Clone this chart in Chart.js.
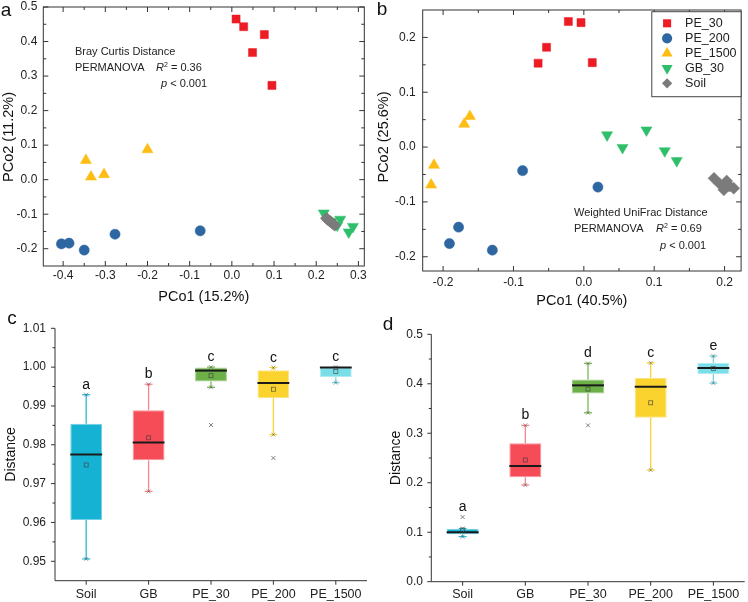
<!DOCTYPE html>
<html><head><meta charset="utf-8">
<script src="https://cdn.jsdelivr.net/npm/chart.js@4.4.0/dist/chart.umd.min.js"></script>
<style>
body{margin:0;background:#fff;}
#wrap{position:relative;width:748px;height:602px;overflow:hidden;background:#fff;font-family:"Liberation Sans",Arial,sans-serif;color:#222;}
canvas{position:absolute;}
.t{position:absolute;white-space:nowrap;font-size:11px;line-height:1;color:#222;transform:translateY(-50%);}
.t sup{font-size:7px;vertical-align:0;position:relative;top:-4px;}
.lt{position:absolute;font-size:19px;line-height:1;color:#111;transform:translate(-50%,-50%);}
</style></head><body>
<div id="wrap">
<canvas id="ca" width="374" height="310" style="left:0;top:0"></canvas>
<canvas id="cb" width="374" height="312" style="left:374px;top:0"></canvas>
<canvas id="cc" width="374" height="292" style="left:0;top:310px"></canvas>
<canvas id="cd" width="374" height="292" style="left:374px;top:310px"></canvas>

<div class="lt" style="left:6px;top:9px">a</div>
<div class="lt" style="left:382px;top:8px">b</div>
<div class="lt" style="left:12px;top:317px">c</div>
<div class="lt" style="left:388px;top:323px">d</div>

<div class="t" style="left:75px;top:51px">Bray Curtis Distance</div>
<div class="t" style="left:75px;top:67px">PERMANOVA</div>
<div class="t" style="left:156px;top:67px"><i>R</i><sup>2</sup> = 0.36</div>
<div class="t" style="left:161px;top:83px"><i>p</i> &lt; 0.001</div>

<div class="t" style="left:574px;top:212px">Weighted UniFrac Distance</div>
<div class="t" style="left:574px;top:228px">PERMANOVA</div>
<div class="t" style="left:656px;top:228px"><i>R</i><sup>2</sup> = 0.69</div>
<div class="t" style="left:660px;top:245px"><i>p</i> &lt; 0.001</div>
</div>
<script>
// ---------------- DATA ----------------
const groups = ['PE_30','PE_200','PE_1500','GB_30','Soil'];

// Panel a: Bray Curtis PCoA
const a_PE_30   = [[0.010,0.465],[0.028,0.443],[0.077,0.420],[0.049,0.368],[0.095,0.273]];
const a_PE_200  = [[-0.404,-0.186],[-0.386,-0.184],[-0.350,-0.204],[-0.277,-0.158],[-0.075,-0.148]];
const a_PE_1500 = [[-0.346,0.056],[-0.334,0.008],[-0.303,0.015],[-0.200,0.087]];
const a_GB_30   = [[0.218,-0.097],[0.257,-0.115],[0.287,-0.136],[0.277,-0.152],[0.250,-0.132],[0.236,-0.121]];
const a_Soil    = [[0.224,-0.112],[0.228,-0.116],[0.232,-0.120],[0.236,-0.124],[0.240,-0.128],[0.244,-0.132]];
const aXTicks = [-0.4,-0.3,-0.2,-0.1,0,0.1,0.2,0.3];
const aYTicks = [-0.2,-0.1,0,0.1,0.2,0.3,0.4,0.5];

// Panel b: Weighted UniFrac PCoA
const b_PE_30   = [[-0.022,0.229],[-0.004,0.227],[-0.053,0.182],[-0.065,0.153],[0.012,0.154]];
const b_PE_200  = [[-0.087,-0.043],[0.020,-0.073],[-0.178,-0.146],[-0.191,-0.176],[-0.130,-0.188]];
const b_PE_1500 = [[-0.162,0.056],[-0.170,0.042],[-0.213,-0.033],[-0.217,-0.069]];
const b_GB_30   = [[0.033,0.022],[0.055,-0.001],[0.089,0.031],[0.115,-0.007],[0.132,-0.025]];
const b_Soil    = [[0.185,-0.057],[0.193,-0.067],[0.203,-0.062],[0.199,-0.078],[0.213,-0.075],[0.207,-0.071]];
const bXTicks = [-0.2,-0.1,0,0.1,0.2];
const bYTicks = [-0.2,-0.1,0,0.1,0.2];

// Panels c and d: distance box plots
const boxCats = ['Soil','GB','PE_30','PE_200','PE_1500'];
const cMin  = [0.9506,0.9680,0.9948,0.9826,0.9960];
const cQ1   = [0.9606,0.9760,0.9963,0.9920,0.9974];
const cMed  = [0.9775,0.9806,0.9991,0.9959,0.9999];
const cQ3   = [0.9854,0.9889,0.9999,0.9992,1.0000];
const cMax  = [0.9929,0.9956,1.0000,0.9999,1.0000];
const cMean = [0.9748,0.9818,0.9978,0.9943,0.9989];
const cOut  = [[],[],[0.9851],[0.9766],[]];
const cLetters = ['a','b','c','c','c'];
const cYTicks = [0.95,0.96,0.97,0.98,0.99,1.00,1.01];

const dMin  = [0.0910,0.1953,0.3414,0.2257,0.4014];
const dQ1   = [0.0957,0.2109,0.3806,0.3313,0.4196];
const dMed  = [0.0997,0.2337,0.3968,0.3940,0.4317];
const dQ3   = [0.1065,0.2796,0.4089,0.4115,0.4424];
const dMax  = [0.1075,0.3160,0.4412,0.4424,0.4560];
const dMean = [0.1044,0.2459,0.3893,0.3616,0.4310];
const dOut  = [[0.1307],[],[0.3160],[],[]];
const dLetters = ['a','b','d','c','e'];
const dYTicks = [0,0.1,0.2,0.3,0.4,0.5];

// ---------------- STYLES ----------------
const F = '"Liberation Sans", Arial, sans-serif';
const AX = '#333';
const TXT = '#222';
const groupColors = ['#EC1C24','#2E66A1','#FDBD12','#2FBF6B','#7B7B7B'];
const groupShapes = ['rect','circle','triangle','triangle','rectRot'];
const groupRot    = [0,0,0,180,0];
const groupRadius = [5.7,5.1,6.4,6.4,6];
const boxFill  = ['#16B2D3','#F54C57','#6DB048','#FBD32E','#79DEE8'];
const boxEdge  = ['#6FD0E6','#F8939A','#A3CD8A','#FCE37E','#B0EBF1'];
const boxWhisk = ['#2DB8D8','#F5868E','#79B957','#F5D33A','#74D6E3'];

function minorOf(maj, lo, hi){
  const out=[]; const st=maj[1]-maj[0];
  if(maj[0]-st/2>lo) out.push(maj[0]-st/2);
  for(let i=0;i<maj.length-1;i++) out.push((maj[i]+maj[i+1])/2);
  if(maj[maj.length-1]+st/2<hi) out.push(maj[maj.length-1]+st/2);
  return out;
}
function line(ctx,x1,y1,x2,y2){ctx.beginPath();ctx.moveTo(x1,y1);ctx.lineTo(x2,y2);ctx.stroke();}
function drawMarker(ctx,shape,rot,r,x,y,color){
  ctx.save();ctx.fillStyle=color;ctx.beginPath();
  if(shape==='rect'){const s=r*Math.SQRT1_2;ctx.rect(x-s,y-s,2*s,2*s);}
  else if(shape==='circle'){ctx.arc(x,y,r,0,Math.PI*2);}
  else if(shape==='triangle'){let a=rot*Math.PI/180;for(let k=0;k<3;k++){const px=x+Math.sin(a)*r,py=y-Math.cos(a)*r;k?ctx.lineTo(px,py):ctx.moveTo(px,py);a+=2*Math.PI/3;}ctx.closePath();}
  else if(shape==='rectRot'){ctx.moveTo(x-r,y);ctx.lineTo(x,y-r);ctx.lineTo(x+r,y);ctx.lineTo(x,y+r);ctx.closePath();}
  ctx.fill();ctx.restore();
}

// axis labels and titles, placed through the chart's scales
function axisText(cfg){
  return {id:'axisText', afterDraw(chart){
    const {ctx, chartArea:a, scales:{x,y}} = chart;
    ctx.save(); ctx.fillStyle=TXT; ctx.textBaseline='middle';
    ctx.font=cfg.ySize+'px '+F; ctx.textAlign='right';
    cfg.yT.forEach(v=>ctx.fillText(cfg.fy(v), a.left-cfg.yGap, y.getPixelForValue(v)));
    ctx.font=cfg.xSize+'px '+F; ctx.textAlign='center';
    cfg.xT.forEach((v,i)=>ctx.fillText(cfg.fx(v), x.getPixelForValue(cfg.xv?cfg.xv(v,i):v), a.bottom+cfg.xDy));
    ctx.fillStyle='#111';
    if(cfg.xTitle){ctx.font=cfg.titleSize+'px '+F; ctx.fillText(cfg.xTitle,(a.left+a.right)/2,cfg.xTitleY);}
    ctx.save(); ctx.translate(cfg.yTitleX, cfg.yTitleY!=null?cfg.yTitleY:(a.top+a.bottom)/2); ctx.rotate(-Math.PI/2);
    ctx.font=cfg.yTitleSize+'px '+F; ctx.textAlign='center'; ctx.fillText(cfg.yTitle,0,0); ctx.restore();
    ctx.restore();
  }};
}

function scatterSets(pts){
  return groups.map((g,i)=>({
    label:g,
    data:pts[i].map(p=>({x:p[0],y:p[1]})),
    pointStyle:groupShapes[i], pointRotation:groupRot[i], pointRadius:groupRadius[i],
    pointBackgroundColor:groupColors[i], pointBorderColor:groupColors[i], pointBorderWidth:0.5,
    backgroundColor:groupColors[i], borderColor:groupColors[i],
    showLine:false, order: g==='Soil'?0:1
  }));
}

function frameTicks(xMaj,yMaj){
  return {id:'frameTicks', afterDraw(chart){
    const {ctx, chartArea:a, scales:{x,y}} = chart;
    ctx.save(); ctx.strokeStyle=AX; ctx.lineWidth=1;
    ctx.strokeRect(a.left,a.top,a.right-a.left,a.bottom-a.top);
    const xm=minorOf(xMaj,x.min,x.max), ym=minorOf(yMaj,y.min,y.max);
    const tx=(vals,L)=>vals.forEach(v=>{const p=x.getPixelForValue(v);line(ctx,p,a.bottom,p,a.bottom-L);line(ctx,p,a.top,p,a.top+L);});
    const ty=(vals,L)=>vals.forEach(v=>{const p=y.getPixelForValue(v);line(ctx,a.left,p,a.left+L,p);line(ctx,a.right,p,a.right-L,p);});
    tx(xMaj,5);tx(xm,3);ty(yMaj,5);ty(ym,3);
    ctx.restore();
  }};
}

const legendPlugin = {id:'boxLegend', afterDraw(chart){
  const {ctx, chartArea:a} = chart;
  const bx=a.right-89.3, by=a.top+1.7, bw=89.3, bh=85;
  ctx.save();
  ctx.fillStyle='#fff'; ctx.fillRect(bx,by,bw,bh);
  ctx.strokeStyle='#444'; ctx.lineWidth=1; ctx.strokeRect(bx,by,bw,bh);
  ctx.font='12.5px '+F; ctx.fillStyle=TXT; ctx.textBaseline='middle'; ctx.textAlign='left';
  chart.data.datasets.forEach((ds,i)=>{
    const yy=by+11.6+15*i;
    drawMarker(ctx,groupShapes[i],groupRot[i],groupRadius[i]*(i===4?0.85:1),bx+15.3,yy,groupColors[i]);
    ctx.fillStyle=TXT; ctx.fillText(ds.label,bx+33.3,yy);
  });
  ctx.restore();
}};

const fmt1=v=>Number(v).toFixed(1), fmt2=v=>Number(v).toFixed(2);

function scatterChart(id, pts, xr, yr, xT, yT, xTitle, yTitle, geo, extra){
  return new Chart(document.getElementById(id),{
    type:'scatter',
    data:{datasets:scatterSets(pts)},
    options:{
      responsive:false, animation:false, events:[],
      layout:{padding:{top:geo.top,right:geo.right,left:0,bottom:0}},
      plugins:{legend:{display:false},tooltip:{enabled:false}},
      scales:{
        x:{type:'linear',min:xr[0],max:xr[1],
           afterBuildTicks:s=>{s.ticks=xT.map(v=>({value:v}));},
           afterFit:s=>{s.height=geo.xh;},
           grid:{display:false,drawTicks:false},border:{display:false},ticks:{display:false}},
        y:{type:'linear',min:yr[0],max:yr[1],
           afterBuildTicks:s=>{s.ticks=yT.map(v=>({value:v}));},
           afterFit:s=>{s.width=geo.yw;},
           grid:{display:false,drawTicks:false},border:{display:false},ticks:{display:false}}
      }
    },
    plugins:[frameTicks(xT,yT),axisText({xT:xT,yT:yT,fx:fmt1,fy:fmt1,xSize:12,ySize:12,yGap:geo.ygap,xDy:geo.xdy,
      xTitle:xTitle,xTitleY:geo.xty,titleSize:14.5,yTitle:yTitle,yTitleX:geo.ytx,yTitleY:geo.yty,yTitleSize:14.5})].concat(extra||[])
  });
}

scatterChart('ca',[a_PE_30,a_PE_200,a_PE_1500,a_GB_30,a_Soil],[-0.447,0.314],[-0.25,0.5],aXTicks,aYTicks,
  'PCo1 (15.2%)','PCo2 (11.2%)',{top:7,right:9.7,xh:44,yw:43.3,ygap:6,xdy:10,xty:296.7,ytx:8.5,yty:137});
scatterChart('cb',[b_PE_30,b_PE_200,b_PE_1500,b_GB_30,b_Soil],[-0.229,0.2235],[-0.226,0.25],bXTicks,bYTicks,
  'PCo1 (40.5%)','PCo2 (25.6%)',{top:10,right:3,xh:41,yw:48.7,ygap:7,xdy:11.3,xty:301,ytx:10,yty:137},[legendPlugin]);

function boxExtras(st){
  return {id:'boxExtras', afterDatasetsDraw(chart){
    const ctx=chart.ctx, ys=chart.scales.y, meta=chart.getDatasetMeta(0);
    ctx.save();
    boxCats.forEach((c,i)=>{
      const el=meta.data[i], x=el.x, hw=el.width/2;
      const P=v=>ys.getPixelForValue(v);
      const yMin=P(st.min[i]),yMax=P(st.max[i]),yQ1=P(st.q1[i]),yQ3=P(st.q3[i]);
      ctx.strokeStyle=boxWhisk[i]; ctx.lineWidth=1.3;
      if(yMax<yQ3-0.5) line(ctx,x,yQ3,x,yMax);
      if(yMin>yQ1+0.5) line(ctx,x,yQ1,x,yMin);
      line(ctx,x-4,yMax,x+4,yMax); line(ctx,x-4,yMin,x+4,yMin);
      ctx.strokeStyle='rgba(40,40,40,0.45)'; ctx.lineWidth=0.9;
      [yMin,yMax].forEach(yy=>{line(ctx,x-2,yy-2,x+2,yy+2);line(ctx,x-2,yy+2,x+2,yy-2);});
      ctx.strokeStyle='#1a1a1a'; ctx.lineWidth=2;
      line(ctx,x-hw,P(st.med[i]),x+hw,P(st.med[i]));
      ctx.strokeStyle='rgba(60,60,60,0.75)'; ctx.lineWidth=0.8;
      const ym=P(st.mean[i]); ctx.strokeRect(x-2,ym-2,4,4);
      ctx.strokeStyle='rgba(70,70,70,0.75)'; ctx.lineWidth=0.9;
      st.out[i].forEach(v=>{const yy=P(v);line(ctx,x-2,yy-2,x+2,yy+2);line(ctx,x-2,yy+2,x+2,yy-2);});
      const top=Math.min(yMax,...st.out[i].map(P));
      ctx.fillStyle='#111'; ctx.font='14px '+F; ctx.textAlign='center'; ctx.textBaseline='alphabetic';
      ctx.fillText(st.letters[i],x,top-6);
    });
    ctx.restore();
  }, afterDraw(chart){
    const {ctx, chartArea:a, scales:{x,y}} = chart;
    ctx.save(); ctx.strokeStyle=AX; ctx.lineWidth=1;
    line(ctx,a.left,a.top,a.left,a.bottom); line(ctx,a.left,a.bottom,a.right,a.bottom);
    st.yT.forEach(v=>{const p=y.getPixelForValue(v);line(ctx,a.left,p,a.left-4,p);});
    minorOf(st.yT,y.min,y.max).forEach(v=>{const p=y.getPixelForValue(v);line(ctx,a.left,p,a.left-2.5,p);});
    boxCats.forEach((c,i)=>{const p=x.getPixelForValue(i);line(ctx,p,a.bottom,p,a.bottom+4);});
    ctx.restore();
  }};
}

function boxChart(id, st, yr, geo, fy){
  return new Chart(document.getElementById(id),{
    type:'bar',
    data:{labels:boxCats,datasets:[{
      data:boxCats.map((c,i)=>[st.q1[i],st.q3[i]]),
      backgroundColor:boxFill, borderColor:boxEdge, borderWidth:1, borderSkipped:false,
      barPercentage:0.51, categoryPercentage:1
    }]},
    options:{
      responsive:false, animation:false, events:[],
      layout:{padding:{top:geo.top,right:geo.right,left:0,bottom:0}},
      plugins:{legend:{display:false},tooltip:{enabled:false}},
      scales:{
        x:{afterFit:s=>{s.height=geo.xh;},grid:{display:false,drawTicks:false},border:{display:false},ticks:{display:false}},
        y:{type:'linear',min:yr[0],max:yr[1],
           afterBuildTicks:s=>{s.ticks=st.yT.map(v=>({value:v}));},
           afterFit:s=>{s.width=geo.yw;},
           grid:{display:false,drawTicks:false},border:{display:false},ticks:{display:false}}
      }
    },
    plugins:[boxExtras(st),axisText({xT:boxCats,xv:(v,i)=>i,yT:st.yT,fx:v=>v,fy:fy,xSize:12.5,ySize:12,yGap:geo.ygap,xDy:geo.xdy,
      xTitle:null,yTitle:'Distance',yTitleX:geo.ytx,yTitleSize:14})]
  });
}

boxChart('cc',{min:cMin,q1:cQ1,med:cMed,q3:cQ3,max:cMax,mean:cMean,out:cOut,letters:cLetters,yT:cYTicks},
  [0.945,1.01],{top:18.3,right:7,xh:21.3,yw:55,ygap:9,xdy:14.3,ytx:10.7},fmt2);
boxChart('cd',{min:dMin,q1:dQ1,med:dMed,q3:dQ3,max:dMax,mean:dMean,out:dOut,letters:dLetters,yT:dYTicks},
  [0,0.5],{top:24.3,right:3.3,xh:20.3,yw:57.3,ygap:8.3,xdy:13.3,ytx:21.7},fmt1);
</script>
</body></html>
